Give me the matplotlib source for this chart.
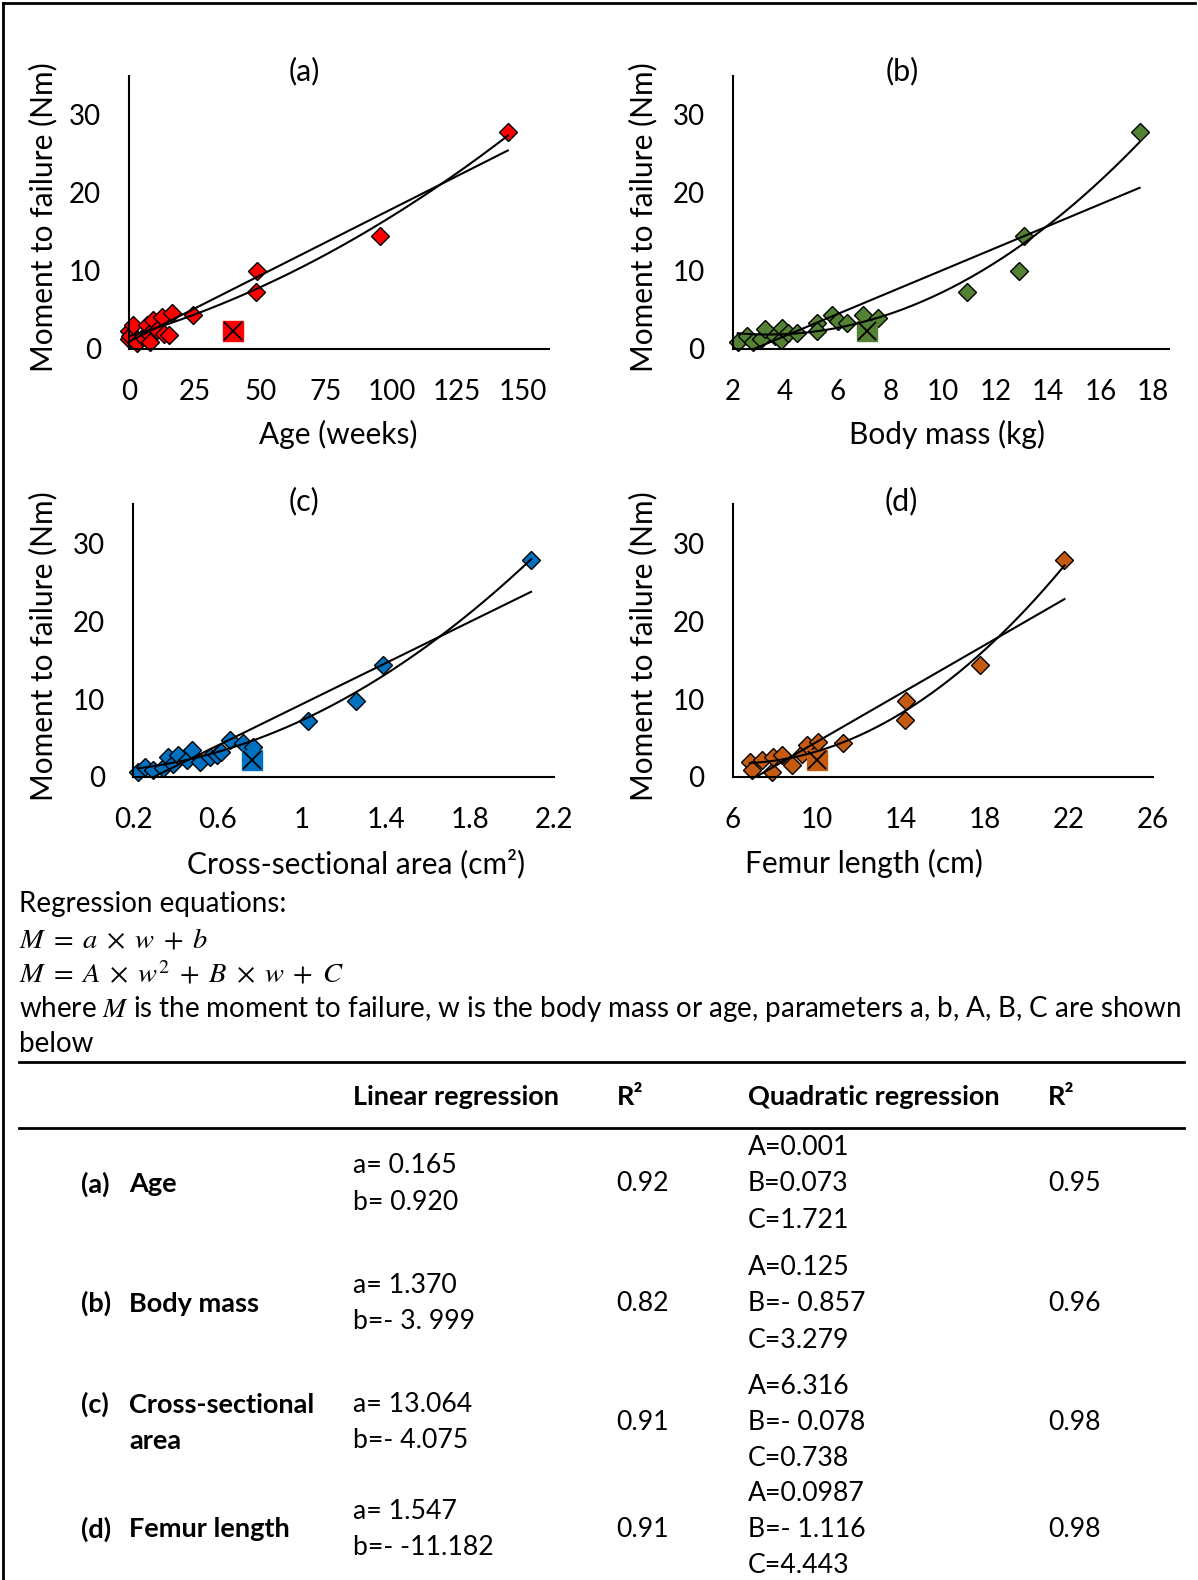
import numpy as np
import matplotlib
matplotlib.use("Agg")
import matplotlib.pyplot as plt
from matplotlib.lines import Line2D

plt.rcParams['font.family'] = ['Lato', 'DejaVu Sans']
plt.rcParams['mathtext.fontset'] = 'stix'

# ---------------- data ----------------
age_a = [0, 0, 0.5, 1.5, 3, 5.4, 6.9, 7.5, 8, 9.2, 10.6, 12.4, 13.5, 15.3, 16.2, 24.3, 48.2, 48.6, 95.7, 144.3]
mom_a = [2.2, 1.2, 1.6, 3.0, 0.7, 1.5, 3.0, 1.9, 0.8, 3.65, 2.4, 4.1, 1.9, 1.8, 4.5, 4.3, 7.3, 9.9, 14.4, 27.8]
out_a = (39.8, 2.2)

mass_b = [2.2, 2.54, 2.78, 3.1, 3.23, 3.6, 3.85, 3.9, 4.1, 4.44, 5.2, 5.2, 5.8, 6.0, 6.35, 6.95, 7.53, 10.9, 12.9, 13.1, 17.48]
mom_b = [0.85, 1.6, 0.85, 1.2, 2.5, 1.6, 1.1, 2.6, 2.0, 2.0, 3.3, 2.2, 4.3, 3.5, 3.3, 4.3, 3.9, 7.3, 9.9, 14.4, 27.8]
out_b = (7.1, 2.2)

csa_c = [0.225, 0.257, 0.297, 0.344, 0.368, 0.39, 0.415, 0.455, 0.478, 0.518, 0.566, 0.6, 0.62, 0.66, 0.724, 0.77, 1.03, 1.257, 1.387, 2.09]
mom_c = [0.66, 1.3, 0.9, 1.1, 2.6, 1.7, 2.8, 2.2, 3.4, 1.9, 2.6, 2.8, 3.2, 4.7, 4.3, 3.9, 7.2, 9.8, 14.4, 27.8]
out_c = (0.764, 2.2)

fem_d = [6.83, 6.91, 7.39, 7.87, 7.94, 8.34, 8.82, 9.29, 9.53, 10.0, 10.09, 11.27, 14.2, 14.25, 17.8, 21.8]
mom_d = [1.95, 0.88, 2.2, 0.66, 2.6, 2.8, 1.5, 3.0, 4.1, 3.1, 4.5, 4.3, 7.3, 9.8, 14.4, 27.8]
out_d = (10.0, 2.2)

xticks_a = [0, 25, 50, 75, 100, 125, 150]
xticks_b = [2, 4, 6, 8, 10, 12, 14, 16, 18]
xticks_c = [0.2, 0.6, 1.0, 1.4, 1.8, 2.2]
xticklabels_c = ['0.2', '0.6', '1', '1.4', '1.8', '2.2']
xticks_d = [6, 10, 14, 18, 22, 26]
yticks = [0, 10, 20, 30]

panel_titles = ['(a)', '(b)', '(c)', '(d)']
xlabels = ['Age (weeks)', 'Body mass (kg)', 'Cross-sectional area (cm²)', 'Femur length (cm)']
ylabel = 'Moment to failure (Nm)'
colors = ['#FF0000', '#548235', '#0070C0', '#C55A11']

# table
tab_headers = ['Linear regression', 'R²', 'Quadratic regression', 'R²']
row_tags = ['(a)', '(b)', '(c)', '(d)']
row_names = [['Age'], ['Body mass'], ['Cross-sectional', 'area'], ['Femur length']]
lin_params = [['a= 0.165', 'b= 0.920'], ['a= 1.370', 'b=- 3. 999'],
              ['a= 13.064', 'b=- 4.075'], ['a= 1.547', 'b=- -11.182']]
lin_r2 = ['0.92', '0.82', '0.91', '0.91']
quad_params = [['A=0.001', 'B=0.073', 'C=1.721'], ['A=0.125', 'B=- 0.857', 'C=3.279'],
               ['A=6.316', 'B=- 0.078', 'C=0.738'], ['A=0.0987', 'B=- 1.116', 'C=4.443']]
quad_r2 = ['0.95', '0.96', '0.98', '0.98']

# ---------------- figure ----------------
W, H = 1198, 1580
S = 1198 / 1189.0
fig = plt.figure(figsize=(W / 100, H / 100), dpi=100)


def T(x, y, s, **kw):
    """x, y in shrunk-reference pixel coords (top-left origin)."""
    fig.text(x * S / W, 1 - y * S / H, s, **kw)


def add_ax(l, t, r, b):
    return fig.add_axes([l / W, 1 - b / H, (r - l) / W, (b - t) / H])


FS = 20
LFS = 21.5
axes_px = [(129, 75.6, 549, 348.6), (732.5, 75.6, 1168.8, 348.6),
           (133, 504.3, 554.2, 776.9), (732.5, 504.3, 1152.7, 776.9)]
xlims = [(0, 160), (2, 18.59), (0.2, 2.2), (6, 26)]
xs = [age_a, mass_b, csa_c, fem_d]
ys = [mom_a, mom_b, mom_c, mom_d]
outs = [out_a, out_b, out_c, out_d]
xt = [xticks_a, xticks_b, xticks_c, xticks_d]
xtl = [[str(v) for v in xticks_a], [str(v) for v in xticks_b], xticklabels_c, [str(v) for v in xticks_d]]

for i in range(4):
    ax = add_ax(*axes_px[i])
    x = np.array(xs[i], float)
    y = np.array(ys[i], float)
    ax.plot(x, y, linestyle='none', marker='D', ms=9.5, mfc=colors[i], mec='black', mew=1.0,
            zorder=2, clip_on=False)
    ox, oy = outs[i]
    ax.plot([ox], [oy], linestyle='none', marker='s', ms=14, mfc=colors[i], mec=colors[i],
            zorder=2, clip_on=False)
    ax.plot([ox], [oy], linestyle='none', marker='x', ms=13, color='black', mew=1.3,
            zorder=2.5, clip_on=False)
    xx = np.linspace(x.min(), x.max(), 200)
    p1 = np.polyfit(x, y, 1)
    p2 = np.polyfit(x, y, 2)
    ax.plot(xx, np.polyval(p1, xx), color='black', lw=1.5, zorder=3)
    ax.plot(xx, np.polyval(p2, xx), color='black', lw=1.5, zorder=3)
    ax.set_xlim(*xlims[i])
    ax.set_ylim(0, 35)
    ax.set_xticks(xt[i])
    ax.set_xticklabels(xtl[i])
    ax.set_yticks(yticks)
    ax.tick_params(length=0, labelsize=FS)
    ax.tick_params(axis='y', pad=20)
    ax.tick_params(axis='x', pad=22)
    for sp in ['top', 'right']:
        ax.spines[sp].set_visible(False)
    for sp in ['left', 'bottom']:
        ax.spines[sp].set_linewidth(1.5)
        ax.spines[sp].set_color('black')
        ax.spines[sp].set_zorder(4)
    ax.patch.set_alpha(0)

# titles and labels
title_pos = [(302, 71), (895, 71), (302, 497), (895, 497)]
xlabel_pos = [(336, 431), (940, 431), (353, 857), (857, 857)]
ylabel_pos = [(43, 215), (638, 215), (43, 641), (638, 641)]
for i in range(4):
    T(*title_pos[i], panel_titles[i], ha='center', va='center', fontsize=22)
    T(*xlabel_pos[i], xlabels[i], ha='center', va='center', fontsize=LFS)
    T(*ylabel_pos[i], ylabel, ha='center', va='center', fontsize=LFS, rotation=90)

# equations text
TFS = 20
T(19, 897, 'Regression equations:', ha='left', va='center', fontsize=TFS)
T(19, 932, r'$M\;=\;a\;\times\;w\;+\;b$', ha='left', va='center', fontsize=20.5)
T(19, 966, r'$M\;=\;A\;\times\;w^{2}\;+\;B\;\times\;w\;+\;C$', ha='left', va='center', fontsize=20.5)
T(19, 1001, r'where $M$ is the moment to failure, w is the body mass or age, parameters a, b, A, B, C are shown',
  ha='left', va='center', fontsize=TFS)
T(19, 1036, 'below', ha='left', va='center', fontsize=TFS)

# table lines
for yl in [1054, 1120]:
    fig.add_artist(Line2D([19 * S / W, 1175 * S / W], [1 - yl * S / H] * 2, color='black', lw=2))

HFS = 19.5
RFS = 19.2
col_x = [350, 612, 742, 1040]
for cx, h in zip(col_x, tab_headers):
    T(cx, 1089, h, ha='left', va='center', fontsize=HFS, fontweight='bold')

row_center = [1175, 1294, 1412, 1518]
for r in range(4):
    yc = row_center[r]
    names = row_names[r]
    T(80, yc if len(names) == 1 else yc - 18, row_tags[r], ha='left', va='center', fontsize=HFS, fontweight='bold')
    if len(names) == 1:
        T(128, yc, names[0], ha='left', va='center', fontsize=HFS, fontweight='bold')
    else:
        T(128, yc - 18, names[0], ha='left', va='center', fontsize=HFS, fontweight='bold')
        T(128, yc + 18, names[1], ha='left', va='center', fontsize=HFS, fontweight='bold')
    T(350, yc - 18, lin_params[r][0], ha='left', va='center', fontsize=RFS)
    T(350, yc + 18, lin_params[r][1], ha='left', va='center', fontsize=RFS)
    T(612, yc, lin_r2[r], ha='left', va='center', fontsize=RFS)
    for k in range(3):
        T(742, yc - 36 + 36 * k, quad_params[r][k], ha='left', va='center', fontsize=RFS)
    T(1040, yc, quad_r2[r], ha='left', va='center', fontsize=RFS)

# border
fig.add_artist(Line2D([3 / W, 3 / W], [0, 1 - 3 / H], color='black', lw=2))
fig.add_artist(Line2D([3 / W, 1 - 3 / W], [1 - 3 / H, 1 - 3 / H], color='black', lw=2))

fig.savefig('out.png', dpi=100)
